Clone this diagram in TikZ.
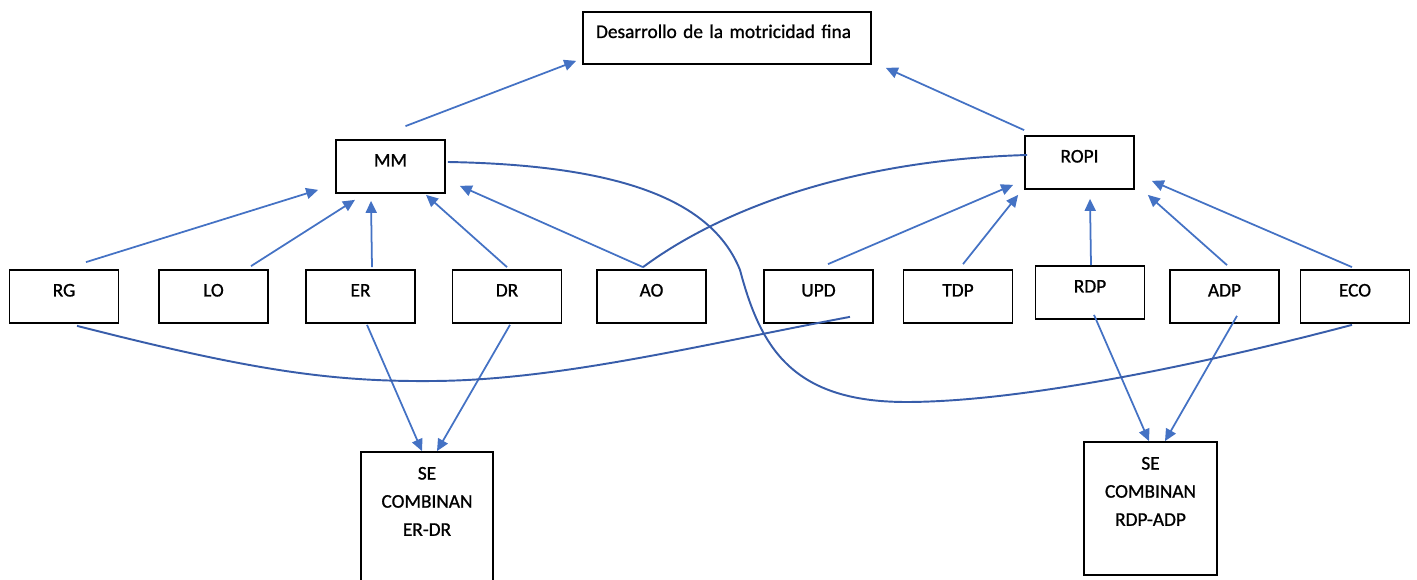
\documentclass[tikz,border=0pt]{standalone}
\usepackage{fontspec}
\setmainfont{Carlito}[UprightFeatures={FakeBold=1}]
\usetikzlibrary{calc,arrows.meta}
\definecolor{azul}{HTML}{4472C4}
\definecolor{azuloscuro}{HTML}{385DAA}

\begin{document}
\begin{tikzpicture}[x=0.02cm,y=-0.02cm,
  caja/.style={draw,line width=1pt,minimum width=2.18cm,minimum height=1.06cm,
    inner sep=0pt,text height=0.3cm,text depth=0.3cm,font=\fontsize{11}{13}\selectfont},
  combina/.style={draw,line width=1pt,inner sep=0pt,font=\fontsize{11}{16}\selectfont},
  flecha/.style={draw=azul,line width=1pt,-{Triangle[length=2.4mm,width=2.2mm]}},
  curva/.style={draw=azuloscuro,line width=1.1pt}]
\useasboundingbox (0,0) rectangle (1417,580);
\clip (0,0) rectangle (1417,580);

\node[caja,minimum width=5.76cm,minimum height=1.04cm,text width=5.24cm,align=left] (fina) at (727,38) {Desarrollo de la motricidad fina};
\node[caja] (mm) at (390.5,166.5) {MM};
\node[caja] (ropi) at (1079.5,162.5) {ROPI};

\node[caja] (rg) at (64,296.5) {RG};
\node[caja] (lo) at (213.5,296.5) {LO};
\node[caja] (er) at (360.5,296.5) {ER};
\node[caja] (dr) at (507,296.5) {DR};
\node[caja] (ao) at (651.5,296.5) {AO};
\node[caja] (upd) at (818.5,296.5) {UPD};
\node[caja] (tdp) at (958,296.5) {TDP};
\node[caja] (rdp) at (1090,292.5) {RDP};
\node[caja] (adp) at (1224.5,296.5) {ADP};
\node[caja] (eco) at (1355,296.5) {ECO};

\node[combina] (erdr) at (427,518.5) {\parbox[c][2.66cm][t]{2.64cm}{\centering\vspace*{0.3cm}SE\\COMBINAN\\ER-DR}};
\node[combina] (rdpadp) at (1150.5,508.5) {\parbox[c][2.66cm][t]{2.66cm}{\centering\vspace*{0.3cm}SE\\COMBINAN\\RDP-ADP}};

\draw[flecha] ($(mm.north)+(15,-13)$) -- ($(fina.south west)+(-6,-4)$);
\draw[flecha] ($(ropi.north west)+(0,-5)$) -- ($(fina.south east)+(14,3)$);

\draw[flecha] ($(rg.north)+(22,-7)$) -- ($(mm.south west)+(-17,-4)$);
\draw[flecha] ($(lo.north)+(37.5,-3)$) -- ($(mm.south)+(-35.5,6)$);
\draw[flecha] ($(er.north)+(11.5,-2)$) -- ($(mm.south)+(-19.5,7)$);
\draw[flecha] ($(dr.north)+(0,-2)$) -- ($(mm.south)+(35.5,1)$);
\draw[flecha] ($(ao.north)+(-8.5,-2)$) -- ($(mm.south east)+(14,-8)$);

\draw[flecha] ($(upd.north)+(9.5,-5)$) -- ($(ropi.south west)+(-11,-5)$);
\draw[flecha] ($(tdp.north)+(5,-5)$) -- ($(ropi.south west)+(-6,5)$);
\draw[flecha] ($(rdp.north)+(1,0)$) -- ($(ropi.south)+(10.5,9)$);
\draw[flecha] ($(adp.north)+(2.5,-4)$) -- ($(ropi.south east)+(13,5)$);
\draw[flecha] ($(eco.north)+(-3,-2)$) -- ($(ropi.south east)+(17,-9)$);

\draw[flecha] ($(er.south)+(6.5,1)$) -- ($(erdr.north)+(-5,0)$);
\draw[flecha] ($(dr.south)+(3,1)$) -- ($(erdr.north)+(10,0)$);
\draw[flecha] ($(rdp.south)+(4,-5)$) -- ($(rdpadp.north)+(-1.5,0)$);
\draw[flecha] ($(adp.south)+(12.5,-8)$) -- ($(rdpadp.north)+(14.5,0)$);

\draw[curva] ($(rg.south)+(13,2)$) .. controls (250,370) and (330,382) .. (434,381)
  .. controls (560,380) and (700,345) .. ($(upd.south)+(31.5,-7)$);
\draw[curva] ($(mm.east)+(2,-4.5)$) .. controls (620,165) and (712,200) .. (740,270)
  .. controls (760,345) and (790,402) .. (906,402)
  .. controls (1020,402) and (1200,365) .. ($(eco.south)+(-3,1)$);
\draw[curva] ($(ao.north)+(-8.5,-2)$) .. controls (720,210) and (850,160) .. ($(ropi.west)+(3,-7.5)$);

\end{tikzpicture}
\end{document}
